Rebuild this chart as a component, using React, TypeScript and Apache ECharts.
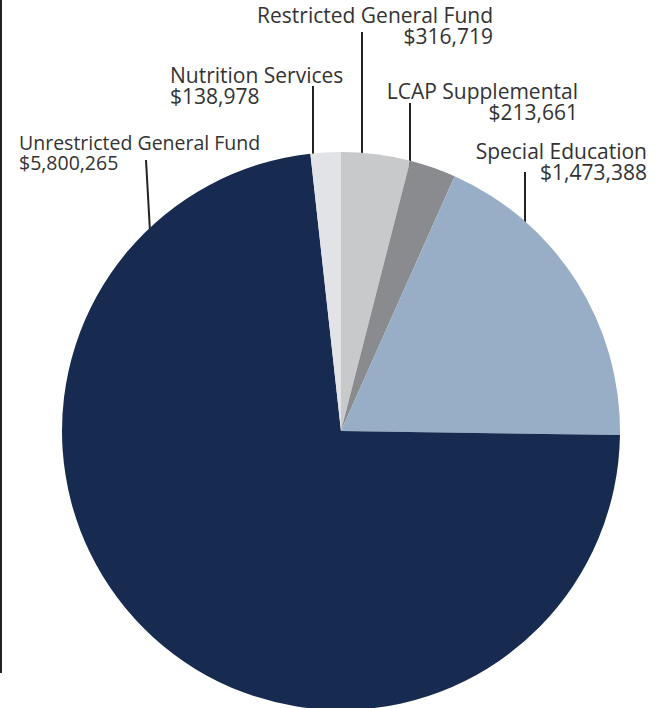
import React, { useEffect, useRef } from "react";
import * as echarts from "echarts";

const categories = [
  "Restricted General Fund",
  "LCAP Supplemental",
  "Special Education",
  "Unrestricted General Fund",
  "Nutrition Services",
];
const values = [316719, 213661, 1473388, 5800265, 138978];
const colors = ["#c8c9cb", "#898b8e", "#98aec7", "#172a50", "#e1e3e6"];

// label layout (pixels): text anchor x, first-line baseline, alignment, font size, leader line x & top
const labelLayouts = [
  { x: 493, base: 22, align: "right", fs: 21, lx: 362, ltop: 32, lx2: 362 },
  { x: 578, base: 98, align: "right", fs: 21, lx: 410, ltop: 103, lx2: 410 },
  { x: 647, base: 158, align: "right", fs: 21, lx: 525, ltop: 172, lx2: 525 },
  { x: 19, base: 149, align: "left", fs: 19.5, lx: 146, ltop: 160, lx2: 150 },
  { x: 170, base: 82, align: "left", fs: 21, lx: 313, ltop: 86, lx2: 313 },
];

const CX = 341;
const CY = 431;
const R = 279;

function fmt(v: number) {
  return "$" + v.toLocaleString("en-US");
}

export default function App() {
  const ref = useRef<HTMLDivElement>(null);
  useEffect(() => {
    if (!ref.current) return;
    const chart = echarts.init(ref.current, null, { renderer: "svg" });
    chart.setOption({
      animation: false,
      backgroundColor: "#ffffff",
      graphic: [
        {
          type: "line",
          shape: { x1: 1, y1: 0, x2: 1, y2: 673 },
          style: { stroke: "#222222", lineWidth: 2 },
        },
      ],
      series: [
        {
          type: "pie",
          center: [CX, CY],
          radius: [0, R],
          startAngle: 90,
          clockwise: true,
          data: categories.map((c, i) => ({
            name: c,
            value: values[i],
            itemStyle: { color: colors[i] },
            label: {
              fontSize: labelLayouts[i].fs,
              lineHeight: labelLayouts[i].fs,
            },
          })),
          label: {
            show: true,
            position: "outside",
            formatter: (p: any) => p.name + "\n" + fmt(p.value),
            fontFamily: "Open Sans",
            fontSize: 21,
            lineHeight: 21,
            color: "#333333",
            overflow: "none",
            width: 400,
          },
          labelLine: {
            show: true,
            lineStyle: { color: "#222222", width: 2 },
          },
          labelLayout: (params: any) => {
            const L = labelLayouts[params.dataIndex];
            const dx = L.lx2 - CX;
            const edgeY = CY - Math.sqrt(R * R - dx * dx) + 4;
            return {
              x: L.x,
              y: L.base - L.fs * 0.833,
              align: L.align,
              verticalAlign: "top",
              labelLinePoints: [
                [L.lx, L.ltop],
                [(L.lx + L.lx2) / 2, (L.ltop + edgeY) / 2],
                [L.lx2, edgeY],
              ],
            };
          },
        },
      ],
    });
    return () => chart.dispose();
  }, []);
  return (
    <div
      ref={ref}
      style={{ position: "fixed", left: 0, top: 0, width: 661, height: 708 }}
    />
  );
}
